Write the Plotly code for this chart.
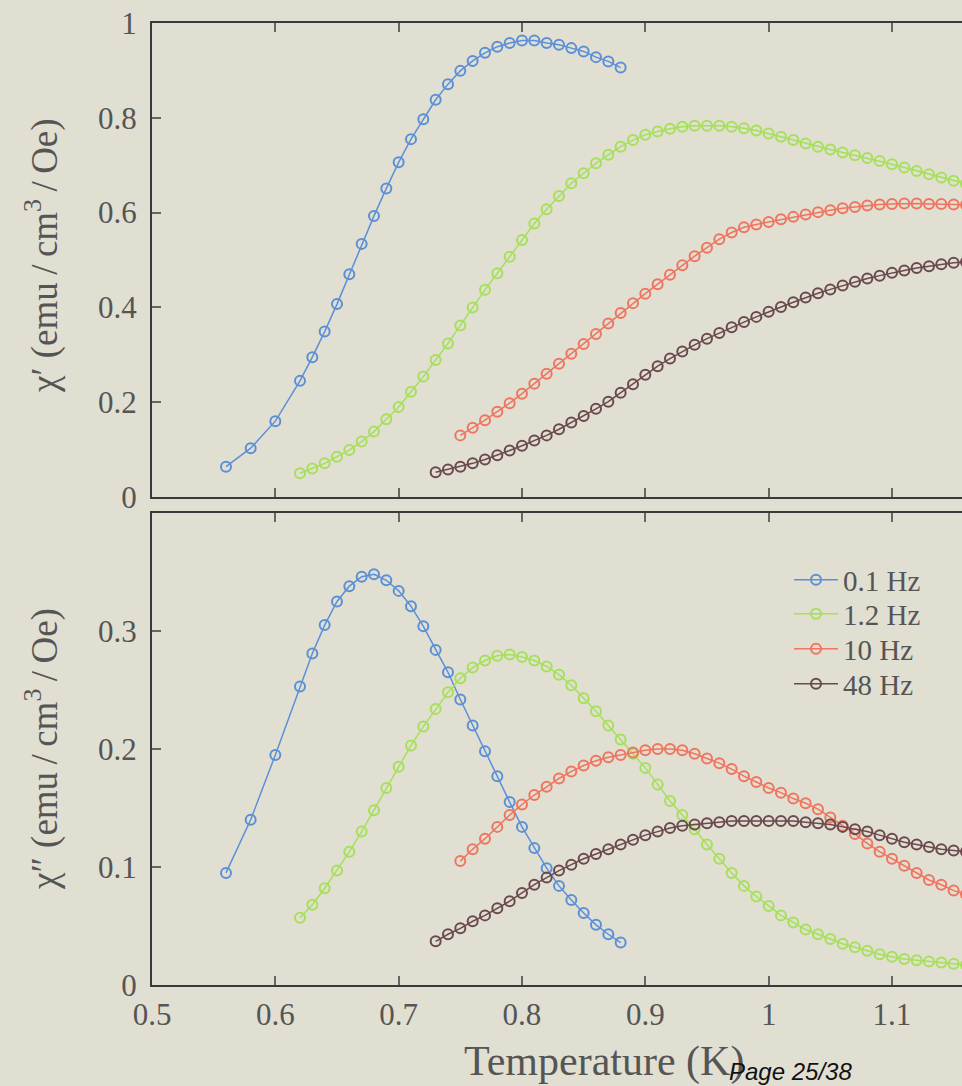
import plotly.graph_objects as go

# ---------------- data ----------------
T_01 = [0.56, 0.58, 0.60, 0.62, 0.63, 0.64, 0.65, 0.66, 0.67, 0.68, 0.69, 0.70, 0.71, 0.72,
        0.73, 0.74, 0.75, 0.76, 0.77, 0.78, 0.79, 0.80, 0.81, 0.82, 0.83, 0.84, 0.85, 0.86,
        0.87, 0.88]
chi1_01 = [0.064, 0.103, 0.160, 0.245, 0.295, 0.349, 0.407, 0.470, 0.534, 0.593, 0.651, 0.706,
           0.755, 0.797, 0.838, 0.871, 0.899, 0.920, 0.937, 0.950, 0.958, 0.963, 0.963, 0.958,
           0.954, 0.947, 0.940, 0.928, 0.919, 0.906]
chi2_01 = [0.095, 0.140, 0.195, 0.253, 0.281, 0.305, 0.325, 0.338, 0.346, 0.348, 0.343, 0.334,
           0.321, 0.304, 0.284, 0.265, 0.242, 0.220, 0.198, 0.177, 0.155, 0.134, 0.116, 0.099,
           0.084, 0.072, 0.061, 0.051, 0.043, 0.036]

T_12 = [0.62, 0.63, 0.64, 0.65, 0.66, 0.67, 0.68, 0.69, 0.70, 0.71, 0.72, 0.73, 0.74, 0.75,
        0.76, 0.77, 0.78, 0.79, 0.80, 0.81, 0.82, 0.83, 0.84, 0.85, 0.86, 0.87, 0.88, 0.89,
        0.90, 0.91, 0.92, 0.93, 0.94, 0.95, 0.96, 0.97, 0.98, 0.99, 1.00, 1.01, 1.02, 1.03,
        1.04, 1.05, 1.06, 1.07, 1.08, 1.09, 1.10, 1.11, 1.12, 1.13, 1.14, 1.15, 1.16]
chi1_12 = [0.050, 0.060, 0.071, 0.085, 0.099, 0.117, 0.138, 0.164, 0.190, 0.222, 0.254, 0.289,
           0.324, 0.362, 0.400, 0.437, 0.472, 0.507, 0.542, 0.577, 0.607, 0.635, 0.662, 0.683,
           0.704, 0.722, 0.739, 0.753, 0.764, 0.771, 0.777, 0.781, 0.783, 0.783, 0.783, 0.781,
           0.778, 0.773, 0.767, 0.760, 0.753, 0.746, 0.739, 0.733, 0.727, 0.721, 0.715, 0.709,
           0.702, 0.695, 0.688, 0.681, 0.674, 0.667, 0.661]
chi2_12 = [0.057, 0.068, 0.082, 0.097, 0.113, 0.130, 0.148, 0.167, 0.185, 0.203, 0.219, 0.234,
           0.248, 0.260, 0.269, 0.275, 0.279, 0.280, 0.278, 0.275, 0.270, 0.263, 0.254, 0.243,
           0.232, 0.220, 0.208, 0.196, 0.184, 0.170, 0.156, 0.144, 0.132, 0.119, 0.107, 0.095,
           0.084, 0.075, 0.067, 0.059, 0.053, 0.047, 0.043, 0.039, 0.035, 0.032, 0.029, 0.026,
           0.024, 0.022, 0.021, 0.020, 0.019, 0.018, 0.017]

T_10 = [0.75, 0.76, 0.77, 0.78, 0.79, 0.80, 0.81, 0.82, 0.83, 0.84, 0.85, 0.86, 0.87, 0.88,
        0.89, 0.90, 0.91, 0.92, 0.93, 0.94, 0.95, 0.96, 0.97, 0.98, 0.99, 1.00, 1.01, 1.02,
        1.03, 1.04, 1.05, 1.06, 1.07, 1.08, 1.09, 1.10, 1.11, 1.12, 1.13, 1.14, 1.15, 1.16]
chi1_10 = [0.130, 0.146, 0.162, 0.180, 0.198, 0.218, 0.239, 0.260, 0.281, 0.302, 0.323, 0.344,
           0.366, 0.388, 0.409, 0.429, 0.449, 0.469, 0.489, 0.508, 0.526, 0.544, 0.558, 0.569,
           0.575, 0.580, 0.586, 0.591, 0.596, 0.601, 0.605, 0.609, 0.612, 0.615, 0.617, 0.618,
           0.619, 0.619, 0.618, 0.618, 0.617, 0.616]
chi2_10 = [0.105, 0.115, 0.124, 0.134, 0.144, 0.153, 0.161, 0.168, 0.175, 0.181, 0.186, 0.190,
           0.193, 0.195, 0.197, 0.199, 0.200, 0.200, 0.199, 0.196, 0.192, 0.188, 0.183, 0.177,
           0.172, 0.167, 0.163, 0.158, 0.154, 0.149, 0.142, 0.135, 0.128, 0.120, 0.113, 0.107,
           0.101, 0.095, 0.089, 0.085, 0.080, 0.077]

T_48 = [0.73, 0.74, 0.75, 0.76, 0.77, 0.78, 0.79, 0.80, 0.81, 0.82, 0.83, 0.84, 0.85, 0.86,
        0.87, 0.88, 0.89, 0.90, 0.91, 0.92, 0.93, 0.94, 0.95, 0.96, 0.97, 0.98, 0.99, 1.00,
        1.01, 1.02, 1.03, 1.04, 1.05, 1.06, 1.07, 1.08, 1.09, 1.10, 1.11, 1.12, 1.13, 1.14,
        1.15, 1.16]
chi1_48 = [0.052, 0.058, 0.064, 0.071, 0.079, 0.088, 0.098, 0.108, 0.119, 0.130, 0.143, 0.157,
           0.171, 0.186, 0.201, 0.220, 0.238, 0.258, 0.276, 0.292, 0.307, 0.321, 0.334, 0.346,
           0.358, 0.369, 0.380, 0.391, 0.401, 0.411, 0.421, 0.430, 0.438, 0.446, 0.454, 0.461,
           0.467, 0.473, 0.478, 0.483, 0.487, 0.491, 0.494, 0.496]
chi2_48 = [0.037, 0.043, 0.048, 0.054, 0.059, 0.065, 0.071, 0.078, 0.085, 0.091, 0.097, 0.102,
           0.107, 0.111, 0.115, 0.119, 0.123, 0.127, 0.130, 0.133, 0.135, 0.136, 0.137, 0.138,
           0.139, 0.139, 0.139, 0.139, 0.139, 0.139, 0.138, 0.137, 0.136, 0.134, 0.132, 0.130,
           0.127, 0.124, 0.121, 0.119, 0.117, 0.115, 0.114, 0.113]

series_names = ["0.1 Hz", "1.2 Hz", "10 Hz", "48 Hz"]
series_T = [T_01, T_12, T_10, T_48]
series_chi1 = [chi1_01, chi1_12, chi1_10, chi1_48]
series_chi2 = [chi2_01, chi2_12, chi2_10, chi2_48]
series_colors = ["#5b90d8", "#a6e05a", "#ef7560", "#6a4a4e"]

x_ticks = [0.5, 0.6, 0.7, 0.8, 0.9, 1.0, 1.1]
x_labels = ["0.5", "0.6", "0.7", "0.8", "0.9", "1", "1.1"]
y1_ticks = [0, 0.2, 0.4, 0.6, 0.8, 1.0]
y1_labels = ["0", "0.2", "0.4", "0.6", "0.8", "1"]
y2_ticks = [0, 0.1, 0.2, 0.3]
y2_labels = ["0", "0.1", "0.2", "0.3"]

# ---------------- figure ----------------
BG = "#e1dfd1"
W, H = 962, 1086
ML, MR, MT, MB = 152, 0, 23, 101
PW, PH = W - ML - MR, H - MT - MB

def px_x(px):
    return (px - ML) / PW

def px_y(py):
    return (H - MB - py) / PH

legend_ids = ["legend", "legend2", "legend3", "legend4"]
legend_rows = [580, 614, 649, 684]

fig = go.Figure()
for name, T, c1, c2, col, lid in zip(series_names, series_T, series_chi1, series_chi2,
                                     series_colors, legend_ids):
    common = dict(mode="lines+markers",
                  line=dict(color=col, width=1.5),
                  marker=dict(symbol="circle-open", size=10, color=col, line=dict(width=2)))
    fig.add_trace(go.Scatter(x=T, y=c1, xaxis="x", yaxis="y", name=name,
                             showlegend=False, **common))
    fig.add_trace(go.Scatter(x=T, y=c2, xaxis="x2", yaxis="y2", name=name,
                             showlegend=True, legend=lid, **common))

tickfont = dict(family="Liberation Serif", size=31, color="#555555")
axis_common = dict(showline=True, linecolor="#3a3a3a", linewidth=2,
                   ticks="inside", ticklen=9, tickwidth=1.5, tickcolor="#666666",
                   showgrid=False, zeroline=False, tickfont=tickfont)
xrange = [0.5, 0.5 + PW / 1233.3]

legend_style = dict(xanchor="left", yanchor="middle", bgcolor="rgba(0,0,0,0)",
                    font=dict(family="Liberation Serif", size=29, color="#555555"),
                    itemwidth=44)

layout_legends = {}
for lid, row in zip(legend_ids, legend_rows):
    layout_legends[lid] = dict(x=px_x(789), y=px_y(row), **legend_style)

fig.update_layout(
    width=W, height=H,
    margin=dict(l=ML, r=MR, t=MT, b=MB),
    paper_bgcolor=BG, plot_bgcolor=BG,
    xaxis=dict(domain=[0, 1], anchor="y", range=xrange, tickvals=x_ticks, ticktext=x_labels,
               showticklabels=False, mirror="ticks", **axis_common),
    yaxis=dict(domain=[px_y(497), 1], anchor="x", range=[0, 1], tickvals=y1_ticks,
               ticktext=y1_labels, ticklabelstandoff=7, **axis_common),
    xaxis2=dict(domain=[0, 1], anchor="y2", range=xrange, tickvals=x_ticks, ticktext=x_labels,
                mirror="ticks", ticklabelstandoff=1, **axis_common),
    yaxis2=dict(domain=[0, px_y(513)], anchor="x2", range=[0, 0.4], tickvals=y2_ticks,
                ticktext=y2_labels, ticklabelstandoff=7, **axis_common),
    showlegend=True,
    **layout_legends,
)

ts = "\u2009"
title_font = dict(family="Liberation Serif", size=37, color="#555555")
fig.add_annotation(text=f"χ′ (emu{ts}/{ts}cm<sup>3</sup>{ts}/{ts}Oe)", textangle=-90,
                   showarrow=False, xref="paper", yref="paper", x=px_x(42), y=px_y(256),
                   xanchor="center", yanchor="middle", font=title_font)
fig.add_annotation(text=f"χ″ (emu{ts}/{ts}cm<sup>3</sup>{ts}/{ts}Oe)", textangle=-90,
                   showarrow=False, xref="paper", yref="paper", x=px_x(42), y=px_y(749),
                   xanchor="center", yanchor="middle", font=title_font)
fig.add_annotation(text="Temperature (K)", showarrow=False,
                   xref="paper", yref="paper", x=px_x(604), y=px_y(1061),
                   xanchor="center", yanchor="middle",
                   font=dict(family="Liberation Serif", size=42, color="#555555"))
fig.add_annotation(text="<i>Page 25/38</i>", showarrow=False,
                   xref="paper", yref="paper", x=px_x(727), y=px_y(1071),
                   xanchor="left", yanchor="middle",
                   font=dict(family="Liberation Sans", size=24, color="#111111"))

fig.write_html("out.html")
